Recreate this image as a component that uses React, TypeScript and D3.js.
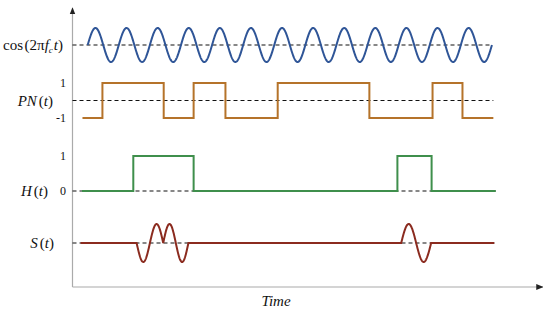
import React from "react";
import * as d3 from "d3";

// ---- data (time in arbitrary units, 0..100 along the time axis) ----
const carrierStart = 3.2;
const carrierEnd = 88.3;
const carrierCycles = 13;

const pnStart = 2.1;
const pnEnd = 88.6;
const pnInitial = -1;
const pnEdges = [6.3, 19.2, 25.5, 32.2, 43.2, 62.5, 75.8, 82.1];

const hStart = 2.0;
const hEnd = 89.1;
const hInitial = 0;
const hEdges = [12.8, 25.5, 68.4, 75.6];

const sStart = 1.7;
const sEnd = 88.8;
const sBurstFrom = [13.5, 19.1, 69.2];
const sBurstTo = [19.1, 24.4, 75.5];
const sBurstSign = [-1, 1, 1];

const pnTickValues = [1, -1];
const pnTickLabels = ["1", "-1"];
const hTickValues = [1, 0];
const hTickLabels = ["1", "0"];

const W = 550;
const H = 312;

const serif = "'Liberation Serif', 'DejaVu Serif', serif";

export default function App() {
  const x = d3.scaleLinear().domain([0, 100]).range([72.5, 547.5]);
  const yCos = d3.scaleLinear().domain([-1, 1]).range([62, 28]);
  const yPN = d3.scaleLinear().domain([-1, 1]).range([118, 83]);
  const yH = d3.scaleLinear().domain([0, 1]).range([191, 156]);
  const yS = d3.scaleLinear().domain([-1, 1]).range([262, 224]);

  // carrier samples
  const cosPts: [number, number][] = [];
  const nC = 1200;
  for (let i = 0; i <= nC; i++) {
    const t = carrierStart + ((carrierEnd - carrierStart) * i) / nC;
    const v = Math.sin((2 * Math.PI * carrierCycles * (t - carrierStart)) / (carrierEnd - carrierStart));
    cosPts.push([t, v]);
  }

  const stepPts = (start: number, end: number, init: number, edges: number[], flip: (v: number) => number) => {
    const pts: [number, number][] = [[start, init]];
    let v = init;
    edges.forEach((e) => {
      v = flip(v);
      pts.push([e, v]);
    });
    pts.push([end, v]);
    return pts;
  };
  const pnPts = stepPts(pnStart, pnEnd, pnInitial, pnEdges, (v) => -v);
  const hPts = stepPts(hStart, hEnd, hInitial, hEdges, (v) => 1 - v);

  // S(t) samples
  const sPts: [number, number][] = [];
  const nS = 1500;
  const sVal = (t: number) => {
    for (let k = 0; k < sBurstFrom.length; k++) {
      if (t >= sBurstFrom[k] && t <= sBurstTo[k]) {
        return sBurstSign[k] * Math.sin((2 * Math.PI * (t - sBurstFrom[k])) / (sBurstTo[k] - sBurstFrom[k]));
      }
    }
    return 0;
  };
  const ts: number[] = [];
  for (let i = 0; i <= nS; i++) ts.push(sStart + ((sEnd - sStart) * i) / nS);
  sBurstFrom.forEach((v) => ts.push(v));
  sBurstTo.forEach((v) => ts.push(v));
  ts.sort((a, b) => a - b);
  ts.forEach((t) => sPts.push([t, sVal(t)]));

  const lineCos = d3.line<[number, number]>().x((d) => x(d[0])).y((d) => yCos(d[1]));
  const linePN = d3.line<[number, number]>().x((d) => x(d[0])).y((d) => yPN(d[1])).curve(d3.curveStepAfter);
  const lineH = d3.line<[number, number]>().x((d) => x(d[0])).y((d) => yH(d[1])).curve(d3.curveStepAfter);
  const lineS = d3.line<[number, number]>().x((d) => x(d[0])).y((d) => yS(d[1]));

  const x0 = x(0);
  const dash = "4,3";

  return (
    <svg
      width={W}
      height={H}
      viewBox={`0 0 ${W} ${H}`}
      style={{ position: "absolute", left: 0, top: 0, display: "block", background: "#fff" }}
    >
      <defs>
        <marker id="arr" viewBox="0 0 10 10" refX="9" refY="5" markerWidth="6" markerHeight="6" orient="auto">
          <path d="M0,1 L10,5 L0,9 z" fill="#222" />
        </marker>
      </defs>

      {/* axes */}
      <line x1={x0} y1={287} x2={x0} y2={8} stroke="#aaa" strokeWidth={1.2} markerEnd="url(#arr)" />
      <line x1={x0} y1={287} x2={x(99)} y2={287} stroke="#aaa" strokeWidth={1.2} markerEnd="url(#arr)" />

      {/* dashed baselines */}
      <line x1={x0} x2={x(carrierEnd)} y1={yCos(0)} y2={yCos(0)} stroke="#111" strokeWidth={1.2} strokeDasharray={dash} />
      <line x1={x0} x2={x(pnEnd)} y1={yPN(0)} y2={yPN(0)} stroke="#111" strokeWidth={1.2} strokeDasharray={dash} />
      <line x1={x0} x2={x(hEnd)} y1={yH(0)} y2={yH(0)} stroke="#111" strokeWidth={1.2} strokeDasharray={dash} />
      <line x1={x0} x2={x(sEnd)} y1={yS(0)} y2={yS(0)} stroke="#111" strokeWidth={1.2} strokeDasharray={dash} />

      {/* signals */}
      <path d={lineCos(cosPts) || ""} fill="none" stroke="#2f5597" strokeWidth={2} />
      <path d={linePN(pnPts) || ""} fill="none" stroke="#b5732a" strokeWidth={2} />
      <path d={lineH(hPts) || ""} fill="none" stroke="#3f8f4c" strokeWidth={2} />
      <path d={lineS(sPts) || ""} fill="none" stroke="#8b2b1f" strokeWidth={2} />

      {/* tick labels */}
      {pnTickValues.map((v, i) => (
        <text key={"pn" + i} x={66} y={yPN(v) + 4} textAnchor="end" fontFamily={serif} fontSize={12} fill="#111">
          {pnTickLabels[i]}
        </text>
      ))}
      {hTickValues.map((v, i) => (
        <text key={"h" + i} x={66} y={yH(v) + 4} textAnchor="end" fontFamily={serif} fontSize={12} fill="#111">
          {hTickLabels[i]}
        </text>
      ))}

      {/* signal labels */}
      <text x={63} y={yCos(0) + 5} textAnchor="end" fontFamily={serif} fontSize={15} fill="#111">
        <tspan>cos</tspan>
        <tspan dx={1.5}>(2π</tspan>
        <tspan fontStyle="italic">f</tspan>
        <tspan fontSize={9} dy={3} fontStyle="italic">c</tspan>
        <tspan dy={-3} dx={1} fontStyle="italic">t</tspan>
        <tspan>)</tspan>
      </text>
      <text x={53} y={yPN(0) + 5} textAnchor="end" fontFamily={serif} fontSize={15} fill="#111">
        <tspan fontStyle="italic">PN</tspan>
        <tspan dx={2}>(</tspan>
        <tspan fontStyle="italic">t</tspan>
        <tspan>)</tspan>
      </text>
      <text x={48} y={yH(0) + 5} textAnchor="end" fontFamily={serif} fontSize={15} fill="#111">
        <tspan fontStyle="italic">H</tspan>
        <tspan dx={2}>(</tspan>
        <tspan fontStyle="italic">t</tspan>
        <tspan>)</tspan>
      </text>
      <text x={54} y={yS(0) + 5} textAnchor="end" fontFamily={serif} fontSize={15} fill="#111">
        <tspan fontStyle="italic">S</tspan>
        <tspan dx={2}>(</tspan>
        <tspan fontStyle="italic">t</tspan>
        <tspan>)</tspan>
      </text>

      {/* axis title */}
      <text x={276} y={306} textAnchor="middle" fontFamily={serif} fontStyle="italic" fontSize={15} fill="#111">
        Time
      </text>
    </svg>
  );
}
